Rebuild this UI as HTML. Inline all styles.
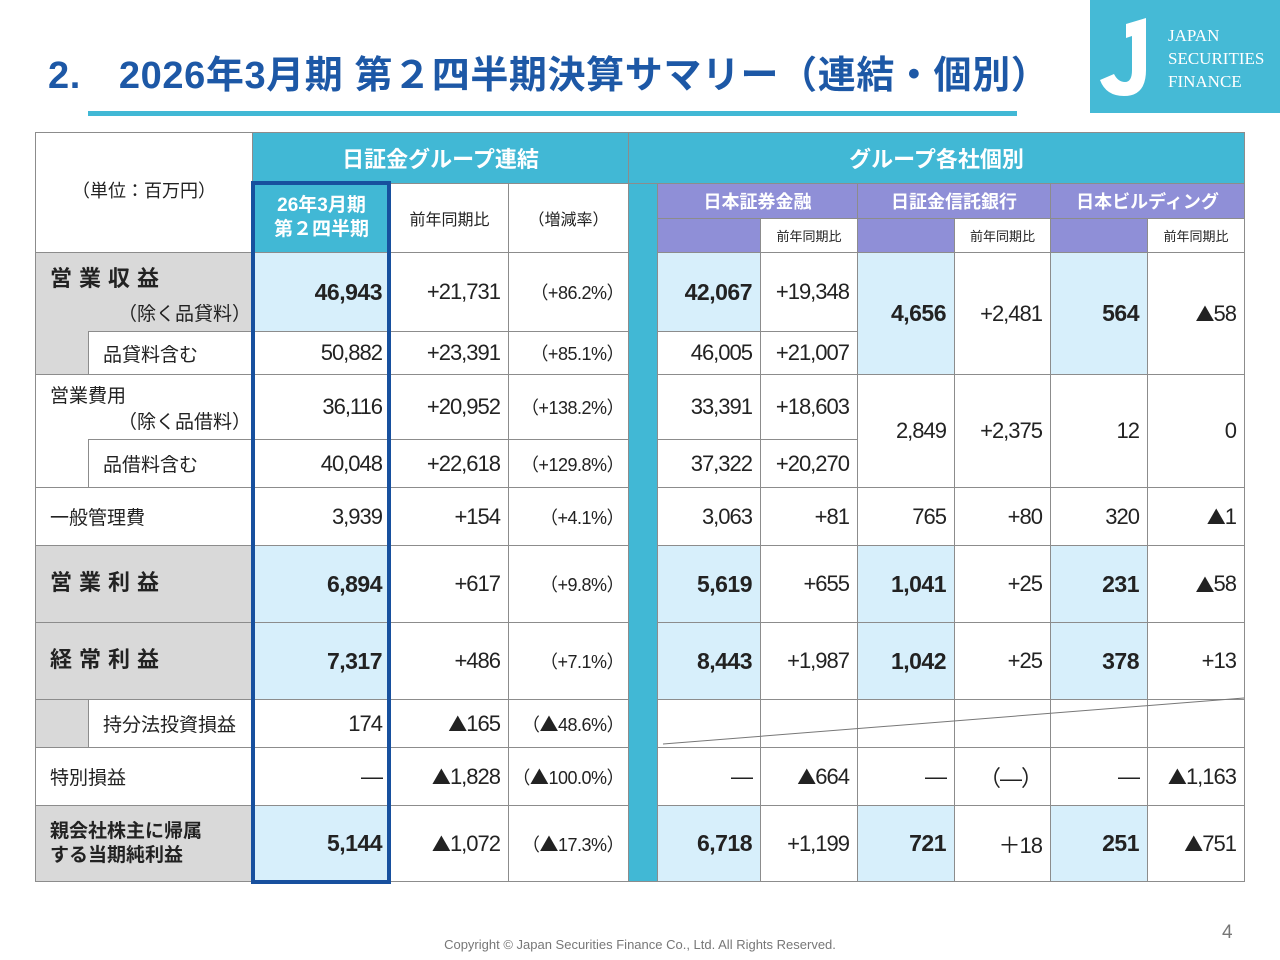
<!DOCTYPE html>
<html lang="ja"><head><meta charset="utf-8">
<style>
body{margin:0;width:1280px;height:960px;background:#fff;position:relative;overflow:hidden;font-family:"Liberation Sans","Noto Sans CJK JP",sans-serif;}
.c{position:absolute;box-sizing:border-box;border:1px solid #8c8c8c;display:flex;align-items:center;color:#222;}
.num{justify-content:flex-end;padding-right:8px;font-size:22px;letter-spacing:-1px;}
.b{font-weight:bold;letter-spacing:-0.5px;font-size:23px;}
.hd{justify-content:center;color:#fff;font-weight:bold;}
.lbl{font-size:19px;padding-left:14px;letter-spacing:0;}
.tri{font-family:"Noto Sans CJK JP",sans-serif;font-size:19px;}
</style></head><body>
<div style="position:absolute;left:48px;top:44px;font-size:38px;font-weight:bold;color:#1d58a6;white-space:nowrap;letter-spacing:0.6px;">2.<span style="display:inline-block;width:38px"></span>2026年3月期 第２四半期決算サマリー（連結・個別）</div>
<div style="position:absolute;left:88px;top:111px;width:929px;height:5px;background:#41b8d5;"></div>
<div style="position:absolute;left:1090px;top:0;width:190px;height:113px;background:#45bad6;">
<svg width="70" height="90" style="position:absolute;left:8px;top:18px"><path d="M28 6 L48 0 L48 52 Q48 78 26 78 Q8 78 2 62 L16 56 Q20 64 27 64 Q34 64 34 52 L34 18 L28 20 Z" fill="#fff"/></svg>
<div style="position:absolute;left:78px;top:24px;color:#fff;font-family:'Liberation Serif',serif;font-size:17px;line-height:23px;">JAPAN<br>SECURITIES<br>FINANCE</div>
</div>
<div id="tbl"></div>
<svg style="position:absolute;left:0;top:0" width="1280" height="960"><line x1="663" y1="744" x2="1244" y2="698" stroke="#777" stroke-width="1"/></svg>
<div style="position:absolute;left:251px;top:181px;width:140px;height:703px;box-sizing:border-box;border:4px solid #17509e;"></div>
<div style="position:absolute;left:0;width:1280px;top:937px;text-align:center;font-size:13px;color:#777;">Copyright © Japan Securities Finance Co., Ltd. All Rights Reserved.</div>
<div style="position:absolute;left:1222px;top:922px;font-size:19px;color:#777;">4</div>
<script>
const TEAL='#41b8d5',PUR='#8f8fd7',LB='#d7effb',GR='#d9d9d9',W='#fff';
const t=document.getElementById('tbl');
function fmt(s){return (s||'').replace(/▲/g,'<span class="tri">▲</span>');}
function cell(x1,x2,y1,y2,bg,html,cls,name,extra){
  const d=document.createElement('div');
  d.className='c '+(cls||'');
  d.style.left=x1+'px';d.style.top=y1+'px';d.style.width=(x2-x1+1)+'px';d.style.height=(y2-y1+1)+'px';d.style.background=bg;
  if(extra)d.style.cssText+=extra;
  d.innerHTML=html||'';
  
  
  t.appendChild(d);
}
cell(35,252,132,252,W,'（単位：百万円）','','unit-label','justify-content:center;font-size:18px;padding-bottom:6px;');
cell(252,628,132,183,TEAL,'日証金グループ連結','hd','header-consolidated','font-size:22px;');
cell(628,1244,132,183,TEAL,'グループ各社個別','hd','header-individual','font-size:22px;');
cell(252,390,183,252,TEAL,'<div style="text-align:center;line-height:24px">26年3月期<br>第２四半期</div>','hd','header-current-period','font-size:19px;');
cell(390,508,183,252,W,'前年同期比','','header-yoy','justify-content:center;font-size:16px;');
cell(508,628,183,252,W,'（増減率）','','header-rate','justify-content:center;font-size:16px;');
cell(628,657,183,881,TEAL,'','','divider-band');
const comps=['日本証券金融','日証金信託銀行','日本ビルディング'];
const cx=[657,857,1050,1244];
for(let i=0;i<3;i++){
  cell(cx[i],cx[i+1],183,218,PUR,comps[i],'hd','header-company','font-size:18px;');
  const m=[760,954,1147][i];
  cell(cx[i],m,218,252,PUR,'','','header-company-value');
  cell(m,cx[i+1],218,252,W,'前年同期比','','header-company-yoy','justify-content:center;font-size:13px;');
}
cell(35,252,252,374,GR,'<div style="position:absolute;left:14px;top:8px;font-size:22px;font-weight:bold;letter-spacing:7px">営業収益</div><div style="position:absolute;left:82px;top:46px;font-size:19px">（除く品貸料）</div>','','label-operating-revenue');
cell(88,252,331,374,W,'品貸料含む','lbl','label-incl-lending');
cell(35,252,374,487,W,'<div style="position:absolute;left:14px;top:6px;font-size:19px">営業費用</div><div style="position:absolute;left:82px;top:32px;font-size:19px">（除く品借料）</div>','','label-operating-expenses');
cell(88,252,439,487,W,'品借料含む','lbl','label-incl-borrowing');
cell(35,252,487,545,W,'一般管理費','lbl','label-sga');
cell(35,252,545,622,GR,'営業利益','lbl','label-operating-income','font-weight:bold;font-size:22px;letter-spacing:7px;padding-bottom:6px;');
cell(35,252,622,699,GR,'経常利益','lbl','label-ordinary-income','font-weight:bold;font-size:22px;letter-spacing:7px;padding-bottom:6px;');
cell(35,252,699,747,GR,'','','label-equity-bg');
cell(88,252,699,747,W,'持分法投資損益','lbl','label-equity-method');
cell(35,252,747,805,W,'特別損益','lbl','label-extraordinary');
cell(35,252,805,881,GR,'<div style="line-height:24px">親会社株主に帰属<br>する当期純利益</div>','lbl','label-net-income','font-weight:bold;');
const rowY=[[252,331],[331,374],[374,439],[439,487],[487,545],[545,622],[622,699],[699,747],[747,805],[805,881]];
const boldRow=[1,0,0,0,0,1,1,0,0,1];
const consVal=['46,943','50,882','36,116','40,048','3,939','6,894','7,317','174','—','5,144'];
const consYoy=['+21,731','+23,391','+20,952','+22,618','+154','+617','+486','▲165','▲1,828','▲1,072'];
const consRate=['（+86.2%）','（+85.1%）','（+138.2%）','（+129.8%）','（+4.1%）','（+9.8%）','（+7.1%）','（▲48.6%）','（▲100.0%）','（▲17.3%）'];
const jsfVal=['42,067','46,005','33,391','37,322','3,063','5,619','8,443','','—','6,718'];
const jsfYoy=['+19,348','+21,007','+18,603','+20,270','+81','+655','+1,987','','▲664','+1,199'];
const trustVal=['4,656',null,'2,849',null,'765','1,041','1,042','','—','721'];
const trustYoy=['+2,481',null,'+2,375',null,'+80','+25','+25','','（—）','＋18'];
const bldVal=['564',null,'12',null,'320','231','378','','—','251'];
const bldYoy=['▲58',null,'0',null,'▲1','▲58','+13','','▲1,163','▲751'];
for(let r=0;r<rowY.length;r++){
  const [y1,y2]=rowY[r];const b=boldRow[r];
  const vb=b?LB:W, cls=b?'num b':'num';
  cell(252,390,y1,y2,vb,fmt(consVal[r]),cls,'consolidated-value');
  cell(390,508,y1,y2,W,fmt(consYoy[r]),'num','consolidated-yoy');
  cell(508,628,y1,y2,W,fmt(consRate[r]),'num','consolidated-rate','font-size:18px;letter-spacing:-0.5px;padding-right:4px;');
  const jb=b?LB:W;
  cell(657,760,y1,y2,jb,fmt(jsfVal[r]),cls,'jsf-value');
  cell(760,857,y1,y2,W,fmt(jsfYoy[r]),'num','jsf-yoy');
  if(trustVal[r]===null)continue;
  let ye=y2;
  if(r===0)ye=374; if(r===2)ye=487;
  const tb=b?LB:W, tc=b?'num b':'num';
  cell(857,954,y1,ye,tb,fmt(trustVal[r]),tc,'trust-value');
  cell(954,1050,y1,ye,W,fmt(trustYoy[r]),'num','trust-yoy');
  cell(1050,1147,y1,ye,tb,fmt(bldVal[r]),tc,'building-value');
  cell(1147,1244,y1,ye,W,fmt(bldYoy[r]),'num','building-yoy');
}
</script>
</body></html>
